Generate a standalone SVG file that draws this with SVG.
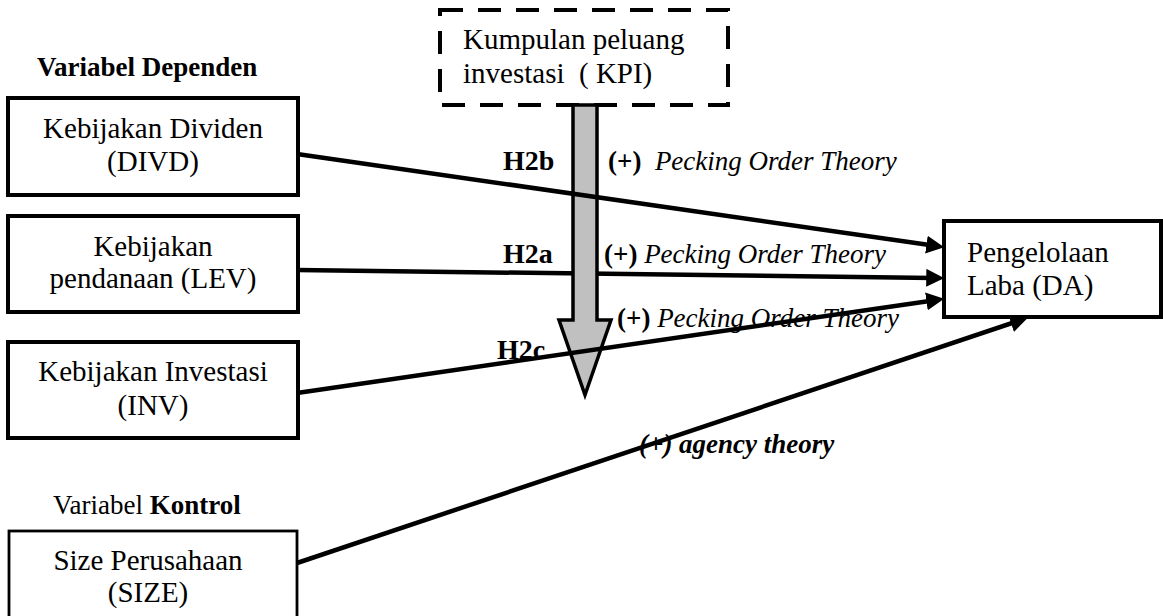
<svg xmlns="http://www.w3.org/2000/svg" width="1163" height="616" viewBox="0 0 1163 616">
<style>
.box{fill:#fff;stroke:#000;stroke-width:4}
.t{font-family:"Liberation Serif","Times New Roman",serif;font-size:29px;fill:#000}
.c{text-anchor:middle}
.h{font-family:"Liberation Serif","Times New Roman",serif;font-size:27px;font-weight:bold;fill:#000}
.lb{font-family:"Liberation Serif","Times New Roman",serif;font-size:28px;font-weight:bold;fill:#000}
.th{font-family:"Liberation Serif","Times New Roman",serif;font-size:27px;fill:#000}
.it{font-style:italic;font-weight:normal}
.b{font-weight:bold}
.ln{stroke:#000;stroke-width:4.5;fill:none;marker-end:url(#ah)}
</style>
<defs>
<marker id="ah" markerUnits="userSpaceOnUse" markerWidth="18" markerHeight="18" viewBox="0 0 16 16" refX="6" refY="8" orient="auto">
<path d="M0,0 L16,8 L0,16 z" fill="#000"/>
</marker>
</defs>
<rect width="1163" height="616" fill="#fff"/>

<text class="h" x="37" y="76">Variabel Dependen</text>
<text class="th" x="53" y="514" font-size="28">Variabel <tspan class="b">Kontrol</tspan></text>

<g id="kpi">
<rect x="440" y="10" width="288" height="95" fill="#fff" stroke="#000" stroke-width="4" stroke-dasharray="23 15"/>
<text class="t" x="463" y="49">Kumpulan peluang</text>
<text class="t" x="463" y="83" xml:space="preserve">investasi  ( KPI)</text>
</g>

<g id="divd">
<rect class="box" x="8" y="98" width="290" height="97"/>
<text class="t c" x="153" y="138">Kebijakan Dividen</text>
<text class="t c" x="153" y="171">(DIVD)</text>
</g>

<g id="lev">
<rect class="box" x="8" y="216" width="290" height="96"/>
<text class="t c" x="153" y="256">Kebijakan</text>
<text class="t c" x="153" y="288">pendanaan (LEV)</text>
</g>

<g id="inv">
<rect class="box" x="8" y="342" width="290" height="96"/>
<text class="t c" x="153" y="381">Kebijakan Investasi</text>
<text class="t c" x="153" y="415">(INV)</text>
</g>

<g id="size">
<rect x="9" y="531" width="288" height="100" fill="#fff" stroke="#000" stroke-width="2.8"/>
<text class="t c" x="148" y="570">Size Perusahaan</text>
<text class="t c" x="148" y="602">(SIZE)</text>
</g>

<g id="da">
<rect class="box" x="944" y="221" width="217" height="96"/>
<text class="t" x="967" y="262">Pengelolaan</text>
<text class="t" x="967" y="295">Laba (DA)</text>
</g>

<g id="labels">
<text class="lb" x="503" y="170">H2b</text>
<text class="th" x="608" y="170" xml:space="preserve"><tspan class="b">(+)</tspan>  <tspan class="it">Pecking Order Theory</tspan></text>
<text class="lb" x="503" y="263">H2a</text>
<text class="th" x="604" y="263"><tspan class="b">(+)</tspan> <tspan class="it">Pecking Order Theory</tspan></text>
<text class="lb" x="497" y="359">H2c</text>
<text class="th" x="617" y="327"><tspan class="b">(+)</tspan> <tspan class="it">Pecking Order Theory</tspan></text>
<text class="th b" x="639" y="453" font-style="italic">(+) agency theory</text>
</g>

<g id="connectors">
<line class="ln" x1="297" y1="270" x2="933" y2="277.9"/>
<path d="M573,105 L597,105 L597,320 L611,320 L585,395 L559,320 L573,320 z" fill="#c0c0c0" stroke="#000" stroke-width="3.5" stroke-linejoin="miter"/>
<line class="ln" x1="297" y1="154" x2="933.1" y2="245.6"/>
<line class="ln" x1="297" y1="393" x2="933.1" y2="300.4"/>
<line class="ln" x1="297" y1="563" x2="1017.5" y2="321.2"/>
</g>
</svg>
